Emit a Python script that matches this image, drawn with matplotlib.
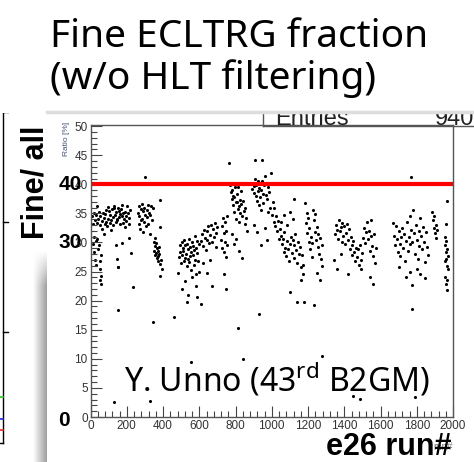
import numpy as np
import matplotlib
matplotlib.use("Agg")
import matplotlib.pyplot as plt
from matplotlib.lines import Line2D
from matplotlib.patches import Rectangle
from matplotlib.ticker import MultipleLocator

plt.rcParams['mathtext.fontset'] = 'custom'
plt.rcParams['mathtext.rm'] = 'Noto Sans'

# (run number, fine/all ratio in %), grouped by run period
grp_a = [(10,34.5),(14,33.2),(18,35.1),(22,31.0),(25,33.9),(28,34.8),(32,30.2),(35,33.4),(38,36.2),(42,34.1),
         (45,35.3),(48,29.5),(52,33.0),(55,34.6),(58,27.8),(62,32.4),(65,33.7),(68,35.0),(72,34.2),(75,31.5),
         (78,33.1),(82,34.9),(85,35.6),(88,33.6),(92,32.8),(95,34.0),(98,36.1),(102,35.4),(105,33.3),(108,34.7),
         (112,32.1),(115,33.9),(118,35.8),(122,34.4),(125,33.0),(128,35.9),(132,36.3),(135,34.8),(138,33.5),
         (142,35.2),(145,34.1),(148,33.8),(152,36.0),(155,35.5),(158,34.3),(162,33.1),(165,34.9),(168,35.7),
         (172,36.4),(175,34.6),(178,33.4),(182,35.1),(185,34.0),(188,32.6),(192,35.3),(195,34.5),(198,33.7),
         (202,36.2),(205,35.0),(210,34.2),(215,33.2),(220,35.6),
         (12,29.8),(18,28.4),(24,27.0),(30,26.2),(36,30.6),(42,28.9),(50,26.9),(55,25.4),(60,24.2),(52,23.5),
         (58,22.9),(140,29.6),(147,27.2),(152,25.8),(154,25.8),(149,18.4),(132,2.6),(237,22.3),(175,29.9),
         (210,30.8),(225,28.2)]
grp_b = [(262,35.1),(265,33.2),(268,36.3),(270,34.5),(273,32.4),(276,35.8),(279,33.9),(282,36.7),(285,34.1),
         (288,31.8),(291,35.4),(294,33.6),(297,36.0),(300,34.8),(303,41.2),(306,32.9),(309,35.6),(312,34.3),
         (315,36.5),(318,33.1),(322,35.0),(326,31.5),(330,34.7),(334,36.2),(340,33.8),(345,35.9),(386,37.3),
         (386,32.7)]
grp_c = [(348,30.1),(352,28.6),(355,29.4),(358,27.9),(360,29.9),(362,28.2),(365,27.4),(367,29.0),(370,28.5),
         (372,26.8),(375,27.7),(378,29.2),(380,28.1),(383,26.3),(386,24.2),(390,27.0),(347,16.3),(331,2.8),
         (395,25.5),(356,30.8)]
grp_d = [(482,24.8),(488,27.5),(492,29.6),(496,28.3),(500,26.4),(503,30.1),(506,27.8),(509,29.0),(512,28.5),
         (515,26.9),(518,30.4),(521,27.3),(524,29.5),(527,28.0),(530,25.9),(533,29.8),(536,27.1),(539,28.8),
         (542,30.6),(545,26.6),(548,29.2),(551,27.6),(554,28.4),(557,25.2),(560,30.0),(563,27.9),(566,29.4),
         (569,26.2),(572,28.7),(575,31.2),(578,27.0),(581,29.1),(584,24.6),(587,28.2),(590,30.3),(594,26.8),
         (598,29.7),(610,30.2),(615,31.5),(620,29.4),(625,32.1),(630,30.8),(635,28.7),(640,31.9),(645,30.5),
         (650,32.8),(655,29.9),(660,31.3),(665,33.0),(670,30.1),(675,32.4),(680,31.0),(685,33.4),(690,31.7),
         (695,29.2),(700,32.6),(505,22.0),(520,23.4),(540,21.0),(560,24.0),(580,22.5),(600,25.0),(620,26.5),
         (640,24.8),(660,27.0),(672,22.6),(463,17.2),(556,9.4),(530,19.8),(590,20.6),(610,19.5)]
grp_e = [(722,30.5),(725,32.8),(728,29.1),(731,34.2),(734,31.6),(737,28.4),(740,33.5),(743,30.0),(746,27.5),
         (749,32.0),(752,29.6),(755,34.6),(735,24.5),(745,22.0)]
grp_f = [(766,43.6),(770,39.8),(773,38.6),(776,40.2),(779,37.5),(782,39.1),(785,36.4),(788,38.0),(791,35.2),
         (794,37.8),(797,39.5),(800,36.9),(803,34.1),(806,38.4),(809,37.0),(812,35.8),(815,39.6),(818,36.2),
         (821,33.6),(824,37.3),(827,35.0),(830,38.8),(833,36.6),(836,34.5),(840,37.1),(845,35.5),(850,33.2),
         (855,36.0),(860,34.2),(865,32.0),(780,31.5),(790,29.8),(800,30.6),(815,15.3),(843,10.0),(820,28.5),
         (835,27.4)]
grp_g = [(892,39.2),(896,40.1),(900,38.5),(904,39.7),(908,41.0),(909,44.2),(912,38.0),(915,39.9),(918,37.2),
         (922,40.5),(925,38.8),(928,36.5),(931,39.4),(935,37.9),(938,35.6),(942,39.0),(946,40.6),(948,44.2),
         (950,38.3),(954,36.8),(958,39.8),(962,41.5),(966,38.1),(970,40.2),(974,37.4),(978,39.5),(982,35.2),
         (986,38.6),(990,36.0),(995,42.0),(1000,34.8),(1005,37.0),(1010,33.5),(1015,35.9),(1020,32.8),
         (1025,34.6),(1030,31.9),(1035,33.7),(1040,30.6),(1045,32.4),(900,33.0),(920,31.8),(940,29.5),
         (960,32.5),(975,30.4),(931,17.7)]
grp_h = [(1050,31.2),(1055,29.8),(1060,30.6),(1065,28.4),(1070,31.8),(1075,29.1),(1080,27.6),(1085,30.3),
         (1090,28.9),(1095,26.8),(1100,29.7),(1105,31.0),(1110,28.2),(1115,30.4),(1120,27.4),(1124,37.5),
         (1125,29.5),(1130,31.5),(1135,28.7),(1140,26.5),(1145,30.0),(1150,28.0),(1155,29.2),(1160,25.8),
         (1165,27.8),(1170,26.2),(1175,24.5),(1052,33.5),(1068,34.8),(1085,33.0),(1100,35.2),(1115,34.0),
         (1102,21.5),(1140,19.8),(1178,19.7),(1160,23.6)]
grp_i = [(1185,36.8),(1188,33.4),(1192,35.1),(1196,31.6),(1200,34.2),(1204,30.0),(1208,32.5),(1212,28.8),
         (1216,31.0),(1220,27.5),(1224,29.9),(1229,35.6),(1233,33.8),(1237,31.8),(1241,34.9),(1245,30.4),
         (1249,32.7),(1253,29.3),(1257,31.5),(1261,28.1),(1265,30.8),(1270,27.2),(1275,29.6),(1278,26.0),
         (1234,19.2),(1278,10.5),(1250,24.8),(1265,23.5)]
grp_j = [(1350,31.5),(1355,33.0),(1360,32.2),(1365,30.6),(1370,33.8),(1375,31.9),(1380,32.6),(1385,30.1),
         (1390,33.4),(1395,31.2),(1400,32.9),(1405,29.8),(1410,31.7),(1415,33.2),(1420,30.4),(1425,32.3),
         (1430,28.9),(1435,31.0),(1440,29.5),(1445,27.8),(1450,30.2),(1455,28.4),(1460,26.9),(1465,29.0),
         (1470,27.5),(1475,28.8),(1480,26.2),(1485,29.6),(1490,27.0),(1495,25.4),(1500,28.2),(1505,30.8),
         (1510,32.5),(1515,29.9),(1520,31.8),(1525,33.5),(1530,30.6),(1535,32.0),(1540,28.6),(1545,31.2),
         (1550,33.8),(1555,29.4),(1560,27.6),(1565,31.5),(1570,26.4),(1575,29.0),(1345,27.0),(1360,25.5),
         (1380,28.0),(1450,3.6),(1488,3.1),(1420,24.5),(1540,24.0),(1560,22.8)]
grp_k = [(1670,33.4),(1675,31.2),(1680,29.5),(1685,32.8),(1690,30.6),(1695,28.4),(1700,31.9),(1705,29.8),
         (1710,27.6),(1715,30.9),(1720,32.5),(1725,29.0),(1730,31.4),(1735,26.8),(1740,30.2),(1745,33.6),
         (1750,28.6),(1755,31.0),(1760,34.5),(1765,29.7),(1769,41.2),(1770,32.2),(1775,30.0),(1780,35.6),
         (1785,31.6),(1790,28.0),(1795,33.0),(1800,30.4),(1805,27.2),(1810,32.0),(1815,29.4),(1820,34.2),
         (1825,31.1),(1830,28.8),(1835,32.7),(1840,30.0),(1845,26.6),(1850,31.8),(1855,29.2),(1860,27.8),
         (1741,24.1),(1818,24.6),(1845,23.9),(1775,22.7),(1775,18.6),(1791,3.4),(1700,25.8),(1760,25.0),
         (1800,25.5)]
grp_l = [(1885,35.2),(1890,33.8),(1893,32.5),(1896,34.6),(1900,31.6),(1904,33.0),(1908,30.8),(1912,32.2),
         (1955,31.0),(1958,29.5),(1960,28.4),(1962,30.2),(1964,27.2),(1966,26.0),(1968,28.8),(1970,25.4),
         (1972,27.6),(1958,24.0),(1962,22.8),(1965,23.6),(1968,21.8),(1960,33.2),(1967,37.1),(1955,26.8)]

threshold = 40
x_ticks = [0, 200, 400, 600, 800, 1000, 1200, 1400, 1600, 1800, 2000]
y_ticks = [0, 5, 10, 15, 20, 25, 30, 35, 40, 45, 50]

pts = np.array(grp_a + grp_b + grp_c + grp_d + grp_e + grp_f + grp_g + grp_h + grp_i + grp_j + grp_k + grp_l)
run_no = pts[:, 0]
ratio = pts[:, 1]

W, H = 474, 462


def fx(px):
    return px / W


def fy(py):
    return 1 - py / H


fig = plt.figure(figsize=(4.74, 4.62), dpi=100)

ax = fig.add_axes([fx(90.5), fy(417), fx(453) - fx(90.5), fy(125) - fy(417)])
ax.scatter(run_no, ratio, s=5, c='black', marker='o', linewidths=0)
ax.axhline(threshold, color='#ff0000', lw=3)
ax.set_xlim(0, 2000)
ax.set_ylim(0, 50.2)
ax.set_xticks(x_ticks)
ax.set_yticks(y_ticks)
ax.xaxis.set_minor_locator(MultipleLocator(40))
ax.yaxis.set_minor_locator(MultipleLocator(1))
ax.tick_params(which='both', direction='in', top=False, right=False, colors='#444444',
               labelcolor='#333333', labelsize=8.5, width=0.8)
ax.tick_params(which='major', length=8, pad=2)
ax.tick_params(which='minor', length=4)
for lab in ax.get_xticklabels() + ax.get_yticklabels():
    lab.set_family('Liberation Sans')
for sp in ax.spines.values():
    sp.set_color('#555555')
    sp.set_linewidth(1)

# ROOT axis titles (small, partly hidden)
fig.text(fx(67), fy(122), 'Ratio [%]', rotation=90, ha='center', va='top', fontsize=6,
         color='#445577', family='Liberation Sans')
fig.text(fx(453), fy(452), 'run#', ha='right', va='bottom', fontsize=7, color='#777777',
         family='Liberation Sans')

# stats box, clipped by the slide area above
fig.text(fx(275), fy(125), 'Entries', ha='left', va='baseline', fontsize=17,
         family='Liberation Sans', color='#222222')
fig.text(fx(435), fy(125), '940', ha='left', va='baseline', fontsize=17,
         family='Liberation Sans', color='#222222')
fig.add_artist(Line2D([fx(263), fx(263)], [fy(112), fy(126)], color='#555555', lw=1))
fig.add_artist(Line2D([fx(263), 1], [fy(126), fy(126)], color='#555555', lw=1))

fig.patches.append(Rectangle((0, fy(113)), 1, 1, transform=fig.transFigure,
                             facecolor='white', edgecolor='none', zorder=5))
fig.add_artist(Line2D([fx(47), 1], [fy(111.5), fy(111.5)], color='#dddddd', lw=2.5, zorder=6))

# gray shadow at the left of the canvas
gax = fig.add_axes([fx(33), 0, fx(47) - fx(33), fy(250)])
grad = np.tile(np.linspace(1.0, 0.62, 50), (100, 1))
fade = np.linspace(0, 1, 100)[:, None]
fade = np.clip(fade * 6, 0, 1)
img = 1 - (1 - grad) * fade
gax.imshow(img, cmap='gray', vmin=0, vmax=1, aspect='auto', origin='upper')
gax.axis('off')

# remains of the neighbouring plot on the left
fig.add_artist(Line2D([fx(3), fx(3)], [fy(0), fy(443)], color='black', lw=1))
fig.add_artist(Line2D([0, fx(3)], [fy(443), fy(443)], color='black', lw=1))
for ty in [112, 222, 332]:
    fig.add_artist(Line2D([fx(3), fx(8)], [fy(ty), fy(ty)], color='black', lw=1))
for ty, cc in [(397, '#22cc22'), (419, '#2222ee'), (430, '#ee2222')]:
    fig.add_artist(Line2D([0, fx(3)], [fy(ty), fy(ty)], color=cc, lw=1.2))

# slide overlay texts
fig.text(fx(50), fy(47), 'Fine ECLTRG fraction', ha='left', va='baseline', fontsize=28,
         family='Noto Sans', color='black', zorder=7)
fig.text(fx(50), fy(89), '(w/o HLT filtering)', ha='left', va='baseline', fontsize=28,
         family='Noto Sans', color='black', zorder=7)
fig.text(fx(35), fy(182), 'Fine/ all', rotation=90, ha='center', va='center', fontsize=22,
         fontweight='bold', family='Liberation Sans', color='black', zorder=7)
fig.text(fx(70), fy(184), '40', ha='center', va='center', fontsize=15, fontweight='bold',
         family='Liberation Sans', color='black', zorder=7)
fig.text(fx(70), fy(243), '30', ha='center', va='center', fontsize=15, fontweight='bold',
         family='Liberation Sans', color='black', zorder=7)
fig.text(fx(64), fy(420), '0', ha='center', va='center', fontsize=15, fontweight='bold',
         family='Liberation Sans', color='black', zorder=7)
fig.text(fx(451), fy(455), 'e26 run#', ha='right', va='baseline', fontsize=22, fontweight='bold',
         family='Liberation Sans', color='black', zorder=7)
fig.text(fx(124), fy(391), r'Y. Unno (43$^{\rm rd}$ B2GM)', ha='left', va='baseline', fontsize=23,
         family='Noto Sans', color='black', zorder=7)

fig.savefig('out.png', dpi=100)
